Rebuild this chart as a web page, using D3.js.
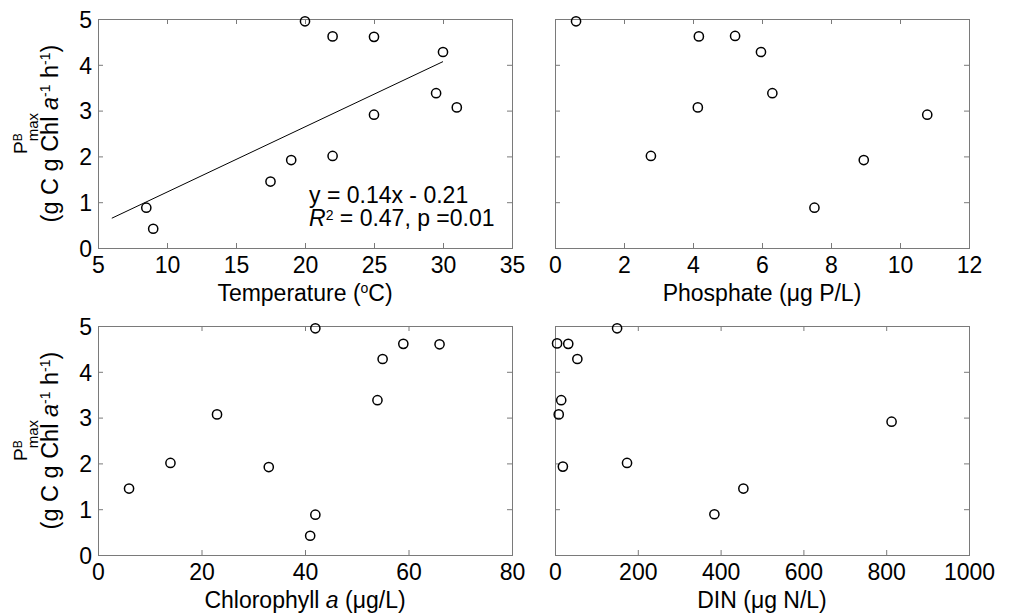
<!DOCTYPE html>
<html>
<head>
<meta charset="utf-8">
<script src="https://cdn.jsdelivr.net/npm/d3@7"></script>
<style>
  body { margin: 0; background: #fff; }
  svg text { font-family: "Liberation Sans", Arial, sans-serif; fill: #000; }
</style>
</head>
<body>
<svg id="chart" width="1015" height="615"></svg>
<script>
// values
var temperature = [20, 22, 25, 30, 29.5, 31, 25, 22, 19, 17.5, 8.5, 9]
var temperaturePmax = [4.95, 4.62, 4.61, 4.28, 3.38, 3.07, 2.91, 2.01, 1.92, 1.45, 0.88, 0.42]

var phosphate = [0.61, 4.17, 5.22, 5.97, 6.30, 4.14, 2.78, 8.95, 7.52, 10.79]
var phosphatePmax = [4.95, 4.62, 4.63, 4.28, 3.38, 3.07, 2.01, 1.92, 0.88, 2.91]

var chlorophyll = [42, 59, 66, 55, 54, 23, 14, 33, 6, 42, 41]
var chlorophyllPmax = [4.95, 4.61, 4.60, 4.28, 3.38, 3.07, 2.01, 1.92, 1.45, 0.88, 0.42]

var din = [150, 5, 32, 54, 15, 9, 19, 174, 455, 385, 813]
var dinPmax = [4.95, 4.62, 4.61, 4.28, 3.38, 3.07, 1.93, 2.01, 1.45, 0.89, 2.91]

// regression line end points (temperature panel)
var fitX = [6, 30]
var fitY = [0.65, 4.07]

var yTicks = [0, 1, 2, 3, 4, 5]
var tempTicks = [5, 10, 15, 20, 25, 30, 35]
var phosTicks = [0, 2, 4, 6, 8, 10, 12]
var chlTicks = [0, 20, 40, 60, 80]
var dinTicks = [0, 200, 400, 600, 800, 1000]

var svg = d3.select("#chart")
var boxColor = "#7a7a7a"
var fs = 23

var panels = [
	{xs: temperature, ys: temperaturePmax, ticks: tempTicks, left: 98, top: 19, yLab: true, label: "temp"},
	{xs: phosphate, ys: phosphatePmax, ticks: phosTicks, left: 555, top: 19, yLab: false, label: "phos"},
	{xs: chlorophyll, ys: chlorophyllPmax, ticks: chlTicks, left: 98, top: 326, yLab: true, label: "chl"},
	{xs: din, ys: dinPmax, ticks: dinTicks, left: 555, top: 326, yLab: false, label: "din"}
]
var pw = 414, ph = 229

panels.forEach(p=>{
	var g = svg.append("g").attr("transform", "translate(" + p.left + "," + p.top + ")")
	var x = d3.scaleLinear().domain([p.ticks[0], p.ticks[p.ticks.length - 1]]).range([0, pw]),
	    y = d3.scaleLinear().domain([0, 5]).range([ph, 0])

	var axB = g.append("g").attr("transform", "translate(0," + ph + ")")
	  .call(d3.axisBottom(x).tickValues(p.ticks).tickSize(-5).tickSizeOuter(0).tickPadding(8.5).tickFormat(d3.format("d")))
	var axT = g.append("g")
	  .call(d3.axisTop(x).tickValues(p.ticks).tickSize(-5).tickSizeOuter(0).tickFormat(""))
	var axL = g.append("g")
	  .call(d3.axisLeft(y).tickValues(yTicks).tickSize(-5).tickSizeOuter(0).tickPadding(6).tickFormat(p.yLab ? d3.format("d") : ""))
	var axR = g.append("g").attr("transform", "translate(" + pw + ",0)")
	  .call(d3.axisRight(y).tickValues(yTicks).tickSize(-5).tickSizeOuter(0).tickFormat(""))

	;[axB, axT, axL, axR].forEach(a=>{
		a.select(".domain").remove()
		a.selectAll("line").attr("stroke", boxColor)
		a.selectAll("text").attr("font-size", fs).attr("fill", "#000")
		  .style("font-family", '"Liberation Sans", Arial, sans-serif')
	})
	axL.selectAll("text").attr("dy", "0.36em")

	g.append("rect")
	  .attr("x", 0.5).attr("y", 0.5).attr("width", pw).attr("height", ph)
	  .attr("fill", "none").attr("stroke", boxColor).attr("stroke-width", 1)

	if (p.label == "temp") {
		g.append("line")
		  .attr("x1", x(fitX[0])).attr("y1", y(fitY[0]))
		  .attr("x2", x(fitX[1])).attr("y2", y(fitY[1]))
		  .attr("stroke", "#000").attr("stroke-width", 1)
	}

	var pts = p.xs.map((v, i)=>({x: v, y: p.ys[i]}))
	g.selectAll(".dot")
	  .data(pts)
	  .enter()
	  .append("circle")
	  .attr("class", "dot")
	  .attr("r", 4.6)
	  .attr("cx", d=>x(d.x))
	  .attr("cy", d=>y(d.y))
	  .style("fill", "none")
	  .style("stroke", "#000")
	  .style("stroke-width", 1.5)

	// x label
	var xl = g.append("text")
	  .attr("x", pw / 2).attr("y", ph + 53)
	  .attr("text-anchor", "middle").attr("font-size", fs)
	if (p.label == "temp") {
		xl.append("tspan").text("Temperature (")
		xl.append("tspan").attr("font-size", 14).attr("dy", -8).text("o")
		xl.append("tspan").attr("dy", 8).text("C)")
	} else if (p.label == "phos") {
		xl.text("Phosphate (\u03bcg P/L)")
	} else if (p.label == "chl") {
		xl.append("tspan").text("Chlorophyll ")
		xl.append("tspan").attr("font-style", "italic").text("a")
		xl.append("tspan").text(" (\u03bcg/L)")
	} else {
		xl.text("DIN (\u03bcg N/L)")
	}

	// y label
	if (p.yLab) {
		var cy = p.top + ph / 2
		var l1 = svg.append("text")
		  .attr("transform", "translate(27," + cy + ") rotate(-90)")
		  .attr("text-anchor", "middle")
		l1.append("tspan").attr("font-size", 19).text("P")
		l1.append("tspan").attr("font-size", 12).attr("dy", -5).text("B")
		l1.append("tspan").attr("font-size", 15).attr("dx", -8).attr("dy", 16).text("max")

		var l2 = svg.append("text")
		  .attr("transform", "translate(58," + cy + ") rotate(-90)")
		  .attr("text-anchor", "middle").attr("font-size", 23.5)
		l2.append("tspan").text("(g C g Chl ")
		l2.append("tspan").attr("font-style", "italic").text("a")
		l2.append("tspan").attr("font-size", 14).attr("dy", -8).text("-1")
		l2.append("tspan").attr("dy", 8).text(" h")
		l2.append("tspan").attr("font-size", 14).attr("dy", -8).text("-1")
		l2.append("tspan").attr("dy", 8).text(")")
	}

	if (p.label == "temp") {
		var t1 = g.append("text").attr("x", 309 - p.left).attr("y", 203 - p.top).attr("font-size", fs)
		t1.text("y = 0.14x - 0.21")
		var t2 = g.append("text").attr("x", 309 - p.left).attr("y", 226 - p.top).attr("font-size", fs)
		t2.append("tspan").attr("font-style", "italic").text("R")
		t2.append("tspan").attr("font-size", 14).attr("dy", -6).text("2")
		t2.append("tspan").attr("dy", 6).text(" = 0.47, p =0.01")
	}
})
</script>
</body>
</html>
